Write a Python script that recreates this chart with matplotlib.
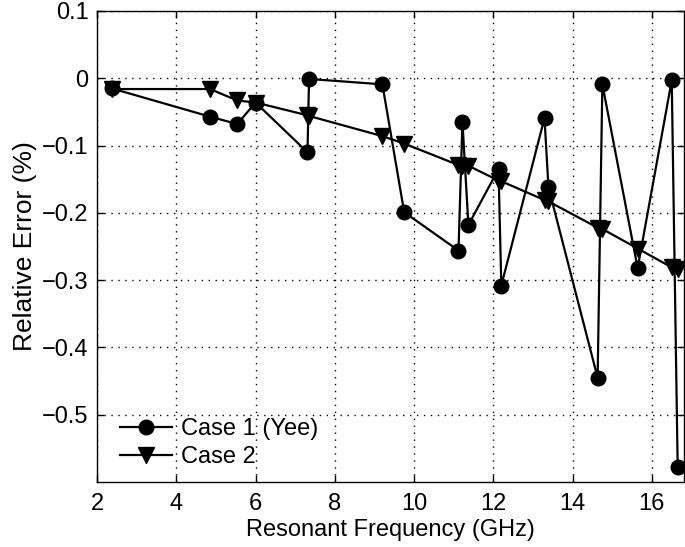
import numpy as np
import matplotlib
matplotlib.use('Agg')
import matplotlib.pyplot as plt

plt.rcParams.update({
    'font.family': ['Liberation Sans', 'DejaVu Sans'],
    'font.size': 17,
    'axes.linewidth': 1.0,
})

# resonant frequencies (GHz), shared by both cases
freq = [2.37, 4.85, 5.54, 6.0, 7.31, 7.35, 9.2, 9.75, 11.12, 11.22, 11.37,
        12.13, 12.2, 13.29, 13.39, 14.63, 14.75, 15.64, 16.5, 16.65]

# relative error (%)
err_case1 = [-0.015, -0.057, -0.068, -0.036, -0.110, -0.001, -0.009, -0.199,
             -0.256, -0.065, -0.218, -0.135, -0.308, -0.059, -0.162, -0.445,
             -0.009, -0.282, -0.003, -0.578]
err_case2 = [-0.016, -0.016, -0.033, -0.036, -0.055, -0.056, -0.086, -0.097,
             -0.129, -0.130, -0.130, -0.152, -0.153, -0.181, -0.183, -0.222,
             -0.224, -0.253, -0.281, -0.284]

xticks = [2, 4, 6, 8, 10, 12, 14, 16]
yticks = [-0.5, -0.4, -0.3, -0.2, -0.1, 0, 0.1]
ytick_labels = ['\u22120.5', '\u22120.4', '\u22120.3', '\u22120.2', '\u22120.1', '0', '0.1']

fig = plt.figure(figsize=(6.85, 5.47), dpi=100)
ax = fig.add_axes([0.1416, 0.1188, 0.8564, 0.8611])

ax.plot(freq, err_case1, color='black', lw=1.6, marker='o', ms=10.5,
        mfc='black', mec='black', label='Case 1 (Yee)', clip_on=False, zorder=3)
ax.plot(freq, err_case2, color='black', lw=1.6, marker='v', ms=11.5,
        mfc='black', mec='black', label='Case 2', clip_on=False, zorder=3)

ax.set_xlim(2, 16.8)
ax.set_ylim(-0.6, 0.1)
ax.set_xticks(xticks)
ax.set_yticks(yticks)
ax.set_yticklabels(ytick_labels)
ax.grid(True, color='black', lw=1.0, linestyle=(0, (1, 4)))
ax.tick_params(direction='in', top=True, right=True, length=5, width=1.0)
ax.tick_params(axis='x', pad=8)
ax.tick_params(axis='y', pad=6)

ax.set_xlabel('Resonant Frequency (GHz)', labelpad=3)
ax.set_ylabel('Relative Error (%)', labelpad=4, fontsize=19)

ax.legend(loc='lower left', bbox_to_anchor=(0.04, 0.03), frameon=False,
          borderpad=0, borderaxespad=0, handlelength=2.2, handletextpad=0.35,
          labelspacing=0.25)

fig.savefig('out.png', dpi=100)
